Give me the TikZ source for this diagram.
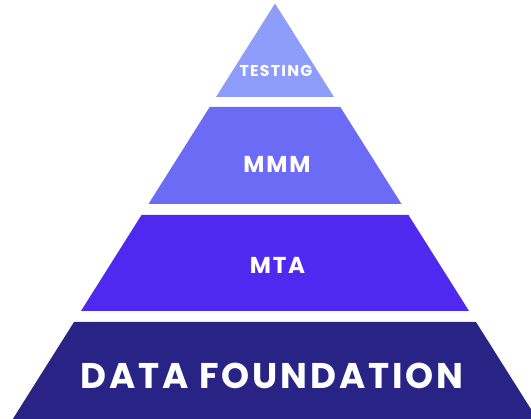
\documentclass[tikz,border=0pt]{standalone}
\usepackage{fontspec}
\setmainfont{Poppins}
\newfontfamily\layerfont[LetterSpace=8]{Poppins}

\definecolor{testcol}{HTML}{8E9DFA}
\definecolor{mmmcol}{HTML}{6B6BF5}
\definecolor{mtacol}{HTML}{4F29F0}
\definecolor{datacol}{HTML}{282385}

\begin{document}
\begin{tikzpicture}[
    x=1pt, y=-1pt,
    lbl/.style={text=white, inner sep=0pt, anchor=center}
]
\useasboundingbox (0,0) rectangle (531,419);
% centre line, side slope and apex height
\def\pyrx{275}
\def\pyrslope{0.631}
\def\pyrtop{3.5}

% top triangle
\fill[testcol] (\pyrx,\pyrtop) -- ({\pyrx+\pyrslope*(97-\pyrtop)},97)
    -- ({\pyrx-\pyrslope*(97-\pyrtop)},97) -- cycle;
% lower layers: top edge / bottom edge / colour
\foreach \t/\b/\c in {107/204/mmmcol, 215/311/mtacol, 322/420/datacol}{
  \fill[\c] ({\pyrx-\pyrslope*(\t-\pyrtop)},\t) -- ({\pyrx+\pyrslope*(\t-\pyrtop)},\t)
      -- ({\pyrx+\pyrslope*(\b-\pyrtop)},\b) -- ({\pyrx-\pyrslope*(\b-\pyrtop)},\b) -- cycle;
}

\node[lbl, font=\layerfont\bfseries\fontsize{15.7}{18}\selectfont] (testing) at (276,70.5) {TESTING};
\node[lbl, font=\layerfont\bfseries\fontsize{23}{27}\selectfont] (mmm) at (277,164) {MMM};
\node[lbl, font=\layerfont\bfseries\fontsize{23}{27}\selectfont] (mta) at (277.5,265) {MTA};
\node[lbl, font=\layerfont\bfseries\fontsize{35.7}{42}\selectfont] (data) at (272,375.5) {DATA FOUNDATION};
\end{tikzpicture}
\end{document}
